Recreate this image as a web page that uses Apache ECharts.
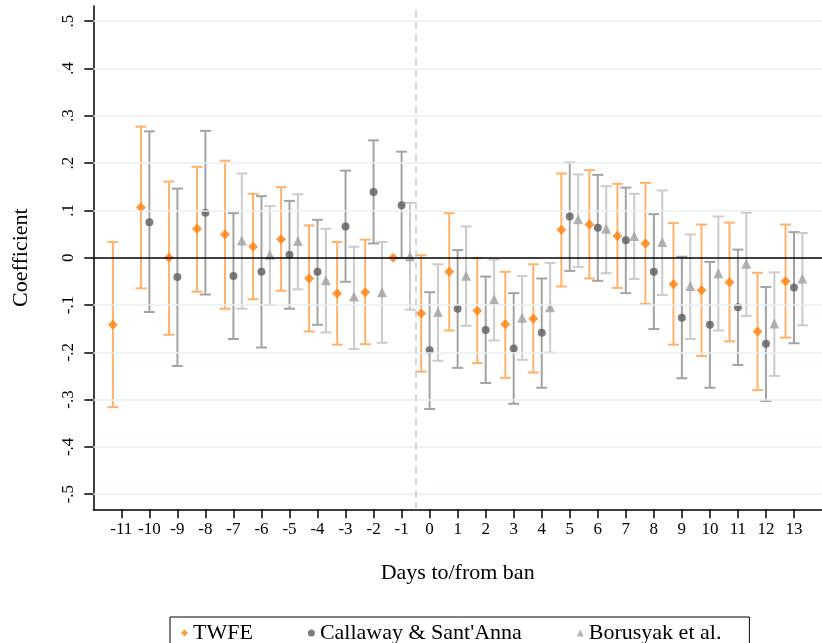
<!DOCTYPE html>
<html>
<head>
<meta charset="utf-8">
<script src="https://cdn.jsdelivr.net/npm/echarts@6/dist/echarts.min.js"></script>
<style>html,body{margin:0;padding:0;background:#fff;}#c{width:822px;height:643px;}</style>
</head>
<body>
<div id="c"></div>
<script>
// Event time (days to/from ban)
const days = [-11,-10,-9,-8,-7,-6,-5,-4,-3,-2,-1,0,1,2,3,4,5,6,7,8,9,10,11,12,13];
const yTicks = [-0.5,-0.4,-0.3,-0.2,-0.1,0,0.1,0.2,0.3,0.4,0.5];

// TWFE
const twfeCoef = [-0.142,0.106,0.000,0.061,0.049,0.023,0.039,-0.044,-0.076,-0.073,0.000,-0.118,-0.030,-0.112,-0.141,-0.129,0.059,0.070,0.046,0.030,-0.056,-0.069,-0.052,-0.156,-0.050];
const twfeLo   = [-0.316,-0.065,-0.163,-0.072,-0.108,-0.088,-0.070,-0.156,-0.184,-0.183,null,-0.241,-0.154,-0.223,-0.254,-0.243,-0.061,-0.044,-0.064,-0.098,-0.184,-0.208,-0.177,-0.280,-0.169];
const twfeHi   = [0.033,0.277,0.161,0.192,0.205,0.135,0.149,0.068,0.033,0.038,null,0.005,0.094,-0.001,-0.030,-0.014,0.178,0.185,0.156,0.158,0.073,0.070,0.074,-0.032,0.070];

// Callaway & Sant'Anna
const csCoef = [null,0.075,-0.041,0.095,-0.039,-0.030,0.006,-0.030,0.066,0.139,0.111,-0.196,-0.108,-0.153,-0.192,-0.159,0.087,0.063,0.037,-0.030,-0.127,-0.142,-0.105,-0.182,-0.063];
const csLo   = [null,-0.115,-0.229,-0.078,-0.172,-0.190,-0.108,-0.142,-0.051,0.030,-0.001,-0.320,-0.233,-0.265,-0.309,-0.275,-0.028,-0.049,-0.075,-0.151,-0.255,-0.275,-0.227,-0.303,-0.181];
const csHi   = [null,0.267,0.146,0.268,0.094,0.130,0.120,0.080,0.184,0.248,0.224,-0.073,0.016,-0.040,-0.075,-0.044,0.201,0.175,0.148,0.092,0.002,-0.009,0.017,-0.062,0.054];

// Borusyak et al.
const bjsCoef = [null,null,null,null,0.036,0.006,0.035,-0.048,-0.082,-0.073,0.003,-0.115,-0.038,-0.088,-0.127,-0.105,0.081,0.061,0.046,0.033,-0.060,-0.033,-0.013,-0.139,-0.044];
const bjsLo   = [null,null,null,null,-0.108,-0.100,-0.067,-0.158,-0.193,-0.180,-0.110,-0.218,-0.144,-0.175,-0.216,-0.201,-0.020,-0.033,-0.045,-0.079,-0.172,-0.154,-0.123,-0.250,-0.143];
const bjsHi   = [null,null,null,null,0.178,0.109,0.134,0.061,0.023,0.033,0.116,-0.014,0.066,-0.004,-0.039,-0.011,0.176,0.151,0.135,0.142,0.049,0.087,0.095,-0.031,0.052];

const FONT = "'Liberation Serif', 'DejaVu Serif', serif";
const OFF = {twfe: -0.3, cs: 0, bjs: 0.3};

function pts(coef, off){
  const out = [];
  coef.forEach((v,i)=>{ if(v!==null) out.push([days[i]+off, v]); });
  return out;
}
function cis(lo, hi, off){
  const out = [];
  lo.forEach((v,i)=>{ if(v!==null && hi[i]!==null) out.push([days[i]+off, v, hi[i]]); });
  return out;
}
function barRender(color){
  return function(params, api){
    const x = api.value(0), lo = api.value(1), hi = api.value(2);
    const a = api.coord([x, lo]), b = api.coord([x, hi]);
    const w = 5.5;
    const st = {stroke: color, lineWidth: 2, fill: null};
    return {type:'group', children:[
      {type:'line', shape:{x1:a[0],y1:a[1],x2:b[0],y2:b[1]}, style:st},
      {type:'line', shape:{x1:a[0]-w,y1:a[1],x2:a[0]+w,y2:a[1]}, style:st},
      {type:'line', shape:{x1:b[0]-w,y1:b[1],x2:b[0]+w,y2:b[1]}, style:st}
    ]};
  };
}

const gridMarks = yTicks.filter(v=>v!==0).map(v=>({yAxis:v, lineStyle:{color:'#E6EFF1', width:1.5, type:'solid'}}));
gridMarks.push({yAxis:0, lineStyle:{color:'#000', width:1.5, type:'solid'}});
gridMarks.push({xAxis:-0.5, lineStyle:{color:'#C8C8C8', width:1.5, type:[7,5]}});

const chart = echarts.init(document.getElementById('c'), null, {renderer:'canvas'});
chart.setOption({
  backgroundColor:'#fff',
  animation:false,
  grid:{left:93.3, top:6, width:732.4, height:503.3, containLabel:false},
  xAxis:{
    type:'value', min:-12, max:14,
    axisLine:{show:true, onZero:false, lineStyle:{color:'#000', width:1.5}},
    axisTick:{show:true, length:9, lineStyle:{color:'#000', width:1.5}, customValues: days},
    axisLabel:{show:true, customValues: days, margin:12, fontFamily:FONT, fontSize:17, color:'#000', formatter: v=>String(v)},
    splitLine:{show:false},
    name:'Days to/from ban', nameLocation:'middle', nameGap:53,
    nameTextStyle:{fontFamily:FONT, fontSize:22, color:'#000'}
  },
  yAxis:{
    type:'value', min:-0.532, max:0.532,
    axisLine:{show:true, onZero:false, lineStyle:{color:'#000', width:1.5}},
    axisTick:{show:true, length:9, lineStyle:{color:'#000', width:1.5}, customValues: yTicks},
    axisLabel:{show:true, customValues: yTicks, rotate:90, margin:16, fontFamily:FONT, fontSize:17, color:'#000',
      formatter: v=>{ const r=Math.round(v*10)/10; if(r===0) return '0'; return (r<0?'-':'')+Math.abs(r).toFixed(1).replace(/^0/,''); }},
    splitLine:{show:false},
    name:'Coefficient', nameLocation:'middle', nameGap:61, nameRotate:90,
    nameTextStyle:{fontFamily:FONT, fontSize:22, color:'#000'}
  },
  legend:{
    data:['TWFE','Callaway & Sant\'Anna','Borusyak et al.'],
    left:170, top:617, orient:'horizontal',
    itemWidth:7, itemHeight:7, itemGap:55,
    padding:[5,28,30,11],
    borderColor:'#000', borderWidth:1,
    textStyle:{fontFamily:FONT, fontSize:22, color:'#000'}
  },
  series:[
    {type:'line', name:'grid', data:[], silent:true, z:0,
     markLine:{silent:true, symbol:'none', label:{show:false}, data:gridMarks, animation:false}},
    {type:'custom', name:'twfeCI', data:cis(twfeLo, twfeHi, OFF.twfe), renderItem:barRender('#FFB26B'), encode:{x:0, y:[1,2]}, z:2, silent:true},
    {type:'custom', name:'csCI', data:cis(csLo, csHi, OFF.cs), renderItem:barRender('#A3A3A3'), encode:{x:0, y:[1,2]}, z:2, silent:true},
    {type:'custom', name:'bjsCI', data:cis(bjsLo, bjsHi, OFF.bjs), renderItem:barRender('#CBCBCB'), encode:{x:0, y:[1,2]}, z:2, silent:true},
    {type:'scatter', name:'TWFE', data:pts(twfeCoef, OFF.twfe), symbol:'diamond', symbolSize:10, itemStyle:{color:'#FF7F0E'}, z:3},
    {type:'scatter', name:'Callaway & Sant\'Anna', data:pts(csCoef, OFF.cs), symbol:'circle', symbolSize:8, itemStyle:{color:'#5C5C5C'}, z:3},
    {type:'scatter', name:'Borusyak et al.', data:pts(bjsCoef, OFF.bjs), symbol:'triangle', symbolSize:10, itemStyle:{color:'#A0A0A0'}, z:3}
  ]
});
</script>
</body>
</html>
